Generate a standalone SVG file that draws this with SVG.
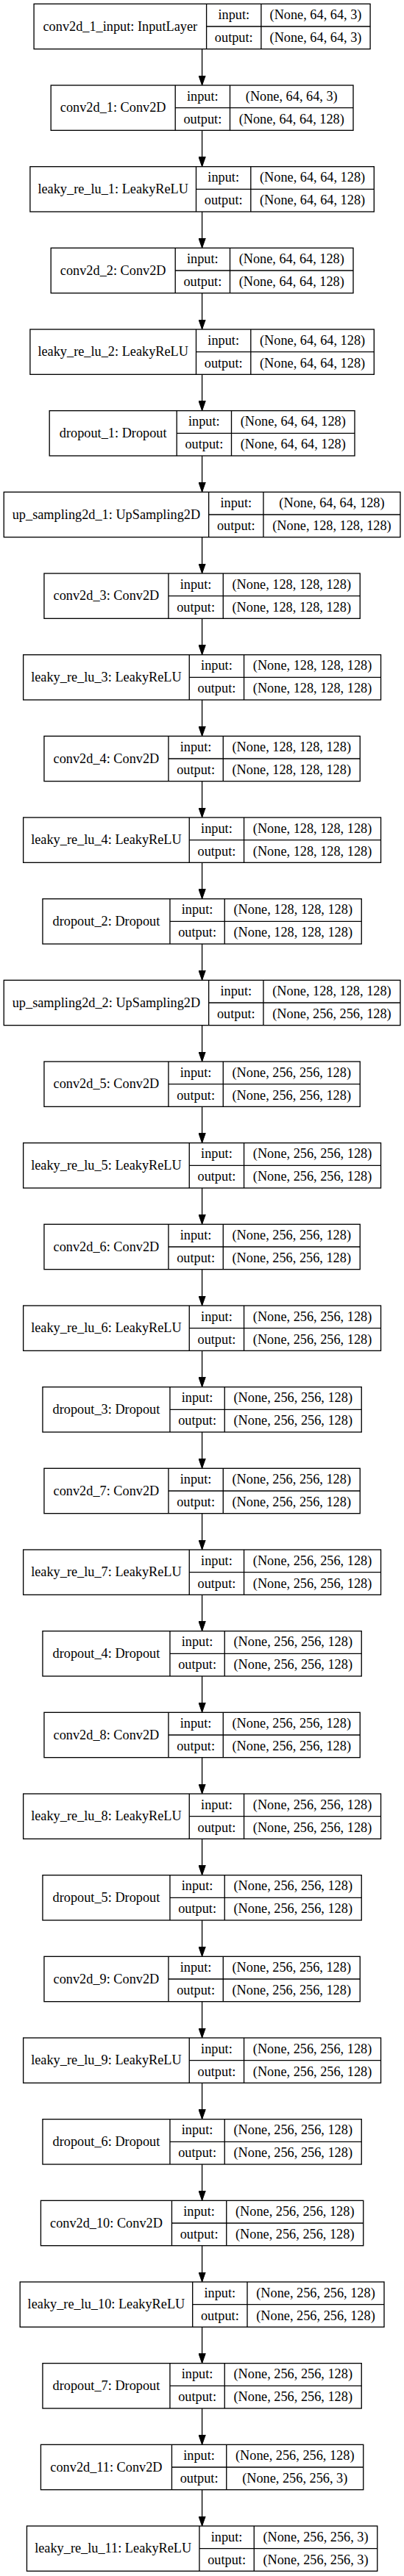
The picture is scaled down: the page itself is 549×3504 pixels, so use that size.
<svg xmlns="http://www.w3.org/2000/svg" width="549" height="3504" viewBox="0 0 549 3504">
<style>
.node rect{fill:#fff;stroke:#000;stroke-width:1.33}
.node path{fill:none;stroke:#000;stroke-width:1.33}
text{font-family:"Liberation Serif","Times New Roman",Times,serif;font-size:18.3px;text-anchor:middle;fill:#000}
#edges line{stroke:#000;stroke-width:1.33}
</style>
<defs>
<marker id="ah" markerUnits="userSpaceOnUse" viewBox="0 -5 14 10" markerWidth="14" markerHeight="10" refX="13.33" refY="0" orient="auto">
<path d="M0,-4.67L13.33,0L0,4.67z" fill="#000" stroke="#000" stroke-width="1"/>
</marker>
</defs>
<rect x="0" y="0" width="549" height="3504" fill="#fff"/>
<g id="edges">
<line x1="274.6" y1="66.66" x2="274.6" y2="116" marker-end="url(#ah)"/>
<line x1="274.6" y1="177.33" x2="274.6" y2="226.67" marker-end="url(#ah)"/>
<line x1="274.6" y1="288" x2="274.6" y2="337.33" marker-end="url(#ah)"/>
<line x1="274.6" y1="398.66" x2="274.6" y2="448" marker-end="url(#ah)"/>
<line x1="274.6" y1="509.33" x2="274.6" y2="558.67" marker-end="url(#ah)"/>
<line x1="274.6" y1="620" x2="274.6" y2="669.33" marker-end="url(#ah)"/>
<line x1="274.6" y1="730.66" x2="274.6" y2="780" marker-end="url(#ah)"/>
<line x1="274.6" y1="841.33" x2="274.6" y2="890.67" marker-end="url(#ah)"/>
<line x1="274.6" y1="952" x2="274.6" y2="1001.33" marker-end="url(#ah)"/>
<line x1="274.6" y1="1062.66" x2="274.6" y2="1112" marker-end="url(#ah)"/>
<line x1="274.6" y1="1173.33" x2="274.6" y2="1222.67" marker-end="url(#ah)"/>
<line x1="274.6" y1="1284" x2="274.6" y2="1333.33" marker-end="url(#ah)"/>
<line x1="274.6" y1="1394.66" x2="274.6" y2="1444" marker-end="url(#ah)"/>
<line x1="274.6" y1="1505.33" x2="274.6" y2="1554.67" marker-end="url(#ah)"/>
<line x1="274.6" y1="1616" x2="274.6" y2="1665.33" marker-end="url(#ah)"/>
<line x1="274.6" y1="1726.66" x2="274.6" y2="1776" marker-end="url(#ah)"/>
<line x1="274.6" y1="1837.33" x2="274.6" y2="1886.67" marker-end="url(#ah)"/>
<line x1="274.6" y1="1948" x2="274.6" y2="1997.33" marker-end="url(#ah)"/>
<line x1="274.6" y1="2058.66" x2="274.6" y2="2108" marker-end="url(#ah)"/>
<line x1="274.6" y1="2169.33" x2="274.6" y2="2218.67" marker-end="url(#ah)"/>
<line x1="274.6" y1="2280" x2="274.6" y2="2329.33" marker-end="url(#ah)"/>
<line x1="274.6" y1="2390.66" x2="274.6" y2="2440" marker-end="url(#ah)"/>
<line x1="274.6" y1="2501.33" x2="274.6" y2="2550.67" marker-end="url(#ah)"/>
<line x1="274.6" y1="2612" x2="274.6" y2="2661.33" marker-end="url(#ah)"/>
<line x1="274.6" y1="2722.66" x2="274.6" y2="2772" marker-end="url(#ah)"/>
<line x1="274.6" y1="2833.33" x2="274.6" y2="2882.67" marker-end="url(#ah)"/>
<line x1="274.6" y1="2944" x2="274.6" y2="2993.33" marker-end="url(#ah)"/>
<line x1="274.6" y1="3054.66" x2="274.6" y2="3104" marker-end="url(#ah)"/>
<line x1="274.6" y1="3165.33" x2="274.6" y2="3214.67" marker-end="url(#ah)"/>
<line x1="274.6" y1="3276" x2="274.6" y2="3325.33" marker-end="url(#ah)"/>
<line x1="274.6" y1="3386.66" x2="274.6" y2="3436" marker-end="url(#ah)"/>
</g>

<g id="conv2d_1_input" class="node" transform="translate(0,5.33)">
<rect x="46.1" y="0" width="457" height="61.33"/>
<path d="M280.6,0V61.33M354.9,0V61.33M280.6,30.67H503.1"/>
<text x="163.35" y="36.3">conv2d_1_input: InputLayer</text>
<text x="317.75" y="20.8">input:</text><text x="317.75" y="51.5">output:</text>
<text x="429" y="20.8">(None, 64, 64, 3)</text><text x="429" y="51.5">(None, 64, 64, 3)</text>
</g>

<g id="conv2d_1" class="node" transform="translate(0,116)">
<rect x="69.2" y="0" width="410.8" height="61.33"/>
<path d="M238.2,0V61.33M312.5,0V61.33M238.2,30.67H480"/>
<text x="153.7" y="36.3">conv2d_1: Conv2D</text>
<text x="275.35" y="20.8">input:</text><text x="275.35" y="51.5">output:</text>
<text x="396.25" y="20.8">(None, 64, 64, 3)</text><text x="396.25" y="51.5">(None, 64, 64, 128)</text>
</g>

<g id="leaky_re_lu_1" class="node" transform="translate(0,226.67)">
<rect x="40.9" y="0" width="467.4" height="61.33"/>
<path d="M266.5,0V61.33M340.8,0V61.33M266.5,30.67H508.3"/>
<text x="153.7" y="36.3">leaky_re_lu_1: LeakyReLU</text>
<text x="303.65" y="20.8">input:</text><text x="303.65" y="51.5">output:</text>
<text x="424.55" y="20.8">(None, 64, 64, 128)</text><text x="424.55" y="51.5">(None, 64, 64, 128)</text>
</g>

<g id="conv2d_2" class="node" transform="translate(0,337.33)">
<rect x="69.2" y="0" width="410.8" height="61.33"/>
<path d="M238.2,0V61.33M312.5,0V61.33M238.2,30.67H480"/>
<text x="153.7" y="36.3">conv2d_2: Conv2D</text>
<text x="275.35" y="20.8">input:</text><text x="275.35" y="51.5">output:</text>
<text x="396.25" y="20.8">(None, 64, 64, 128)</text><text x="396.25" y="51.5">(None, 64, 64, 128)</text>
</g>

<g id="leaky_re_lu_2" class="node" transform="translate(0,448)">
<rect x="40.9" y="0" width="467.4" height="61.33"/>
<path d="M266.5,0V61.33M340.8,0V61.33M266.5,30.67H508.3"/>
<text x="153.7" y="36.3">leaky_re_lu_2: LeakyReLU</text>
<text x="303.65" y="20.8">input:</text><text x="303.65" y="51.5">output:</text>
<text x="424.55" y="20.8">(None, 64, 64, 128)</text><text x="424.55" y="51.5">(None, 64, 64, 128)</text>
</g>

<g id="dropout_1" class="node" transform="translate(0,558.67)">
<rect x="67.2" y="0" width="414.8" height="61.33"/>
<path d="M240.2,0V61.33M314.5,0V61.33M240.2,30.67H482"/>
<text x="153.7" y="36.3">dropout_1: Dropout</text>
<text x="277.35" y="20.8">input:</text><text x="277.35" y="51.5">output:</text>
<text x="398.25" y="20.8">(None, 64, 64, 128)</text><text x="398.25" y="51.5">(None, 64, 64, 128)</text>
</g>

<g id="up_sampling2d_1" class="node" transform="translate(0,669.33)">
<rect x="5.25" y="0" width="538.7" height="61.33"/>
<path d="M283.65,0V61.33M357.95,0V61.33M283.65,30.67H543.95"/>
<text x="144.45" y="36.3">up_sampling2d_1: UpSampling2D</text>
<text x="320.8" y="20.8">input:</text><text x="320.8" y="51.5">output:</text>
<text x="450.95" y="20.8">(None, 64, 64, 128)</text><text x="450.95" y="51.5">(None, 128, 128, 128)</text>
</g>

<g id="conv2d_3" class="node" transform="translate(0,780)">
<rect x="59.95" y="0" width="429.3" height="61.33"/>
<path d="M228.95,0V61.33M303.25,0V61.33M228.95,30.67H489.25"/>
<text x="144.45" y="36.3">conv2d_3: Conv2D</text>
<text x="266.1" y="20.8">input:</text><text x="266.1" y="51.5">output:</text>
<text x="396.25" y="20.8">(None, 128, 128, 128)</text><text x="396.25" y="51.5">(None, 128, 128, 128)</text>
</g>

<g id="leaky_re_lu_3" class="node" transform="translate(0,890.67)">
<rect x="31.65" y="0" width="485.9" height="61.33"/>
<path d="M257.25,0V61.33M331.55,0V61.33M257.25,30.67H517.55"/>
<text x="144.45" y="36.3">leaky_re_lu_3: LeakyReLU</text>
<text x="294.4" y="20.8">input:</text><text x="294.4" y="51.5">output:</text>
<text x="424.55" y="20.8">(None, 128, 128, 128)</text><text x="424.55" y="51.5">(None, 128, 128, 128)</text>
</g>

<g id="conv2d_4" class="node" transform="translate(0,1001.33)">
<rect x="59.95" y="0" width="429.3" height="61.33"/>
<path d="M228.95,0V61.33M303.25,0V61.33M228.95,30.67H489.25"/>
<text x="144.45" y="36.3">conv2d_4: Conv2D</text>
<text x="266.1" y="20.8">input:</text><text x="266.1" y="51.5">output:</text>
<text x="396.25" y="20.8">(None, 128, 128, 128)</text><text x="396.25" y="51.5">(None, 128, 128, 128)</text>
</g>

<g id="leaky_re_lu_4" class="node" transform="translate(0,1112)">
<rect x="31.65" y="0" width="485.9" height="61.33"/>
<path d="M257.25,0V61.33M331.55,0V61.33M257.25,30.67H517.55"/>
<text x="144.45" y="36.3">leaky_re_lu_4: LeakyReLU</text>
<text x="294.4" y="20.8">input:</text><text x="294.4" y="51.5">output:</text>
<text x="424.55" y="20.8">(None, 128, 128, 128)</text><text x="424.55" y="51.5">(None, 128, 128, 128)</text>
</g>

<g id="dropout_2" class="node" transform="translate(0,1222.67)">
<rect x="57.95" y="0" width="433.3" height="61.33"/>
<path d="M230.95,0V61.33M305.25,0V61.33M230.95,30.67H491.25"/>
<text x="144.45" y="36.3">dropout_2: Dropout</text>
<text x="268.1" y="20.8">input:</text><text x="268.1" y="51.5">output:</text>
<text x="398.25" y="20.8">(None, 128, 128, 128)</text><text x="398.25" y="51.5">(None, 128, 128, 128)</text>
</g>

<g id="up_sampling2d_2" class="node" transform="translate(0,1333.33)">
<rect x="5.25" y="0" width="538.7" height="61.33"/>
<path d="M283.65,0V61.33M357.95,0V61.33M283.65,30.67H543.95"/>
<text x="144.45" y="36.3">up_sampling2d_2: UpSampling2D</text>
<text x="320.8" y="20.8">input:</text><text x="320.8" y="51.5">output:</text>
<text x="450.95" y="20.8">(None, 128, 128, 128)</text><text x="450.95" y="51.5">(None, 256, 256, 128)</text>
</g>

<g id="conv2d_5" class="node" transform="translate(0,1444)">
<rect x="59.95" y="0" width="429.3" height="61.33"/>
<path d="M228.95,0V61.33M303.25,0V61.33M228.95,30.67H489.25"/>
<text x="144.45" y="36.3">conv2d_5: Conv2D</text>
<text x="266.1" y="20.8">input:</text><text x="266.1" y="51.5">output:</text>
<text x="396.25" y="20.8">(None, 256, 256, 128)</text><text x="396.25" y="51.5">(None, 256, 256, 128)</text>
</g>

<g id="leaky_re_lu_5" class="node" transform="translate(0,1554.67)">
<rect x="31.65" y="0" width="485.9" height="61.33"/>
<path d="M257.25,0V61.33M331.55,0V61.33M257.25,30.67H517.55"/>
<text x="144.45" y="36.3">leaky_re_lu_5: LeakyReLU</text>
<text x="294.4" y="20.8">input:</text><text x="294.4" y="51.5">output:</text>
<text x="424.55" y="20.8">(None, 256, 256, 128)</text><text x="424.55" y="51.5">(None, 256, 256, 128)</text>
</g>

<g id="conv2d_6" class="node" transform="translate(0,1665.33)">
<rect x="59.95" y="0" width="429.3" height="61.33"/>
<path d="M228.95,0V61.33M303.25,0V61.33M228.95,30.67H489.25"/>
<text x="144.45" y="36.3">conv2d_6: Conv2D</text>
<text x="266.1" y="20.8">input:</text><text x="266.1" y="51.5">output:</text>
<text x="396.25" y="20.8">(None, 256, 256, 128)</text><text x="396.25" y="51.5">(None, 256, 256, 128)</text>
</g>

<g id="leaky_re_lu_6" class="node" transform="translate(0,1776)">
<rect x="31.65" y="0" width="485.9" height="61.33"/>
<path d="M257.25,0V61.33M331.55,0V61.33M257.25,30.67H517.55"/>
<text x="144.45" y="36.3">leaky_re_lu_6: LeakyReLU</text>
<text x="294.4" y="20.8">input:</text><text x="294.4" y="51.5">output:</text>
<text x="424.55" y="20.8">(None, 256, 256, 128)</text><text x="424.55" y="51.5">(None, 256, 256, 128)</text>
</g>

<g id="dropout_3" class="node" transform="translate(0,1886.67)">
<rect x="57.95" y="0" width="433.3" height="61.33"/>
<path d="M230.95,0V61.33M305.25,0V61.33M230.95,30.67H491.25"/>
<text x="144.45" y="36.3">dropout_3: Dropout</text>
<text x="268.1" y="20.8">input:</text><text x="268.1" y="51.5">output:</text>
<text x="398.25" y="20.8">(None, 256, 256, 128)</text><text x="398.25" y="51.5">(None, 256, 256, 128)</text>
</g>

<g id="conv2d_7" class="node" transform="translate(0,1997.33)">
<rect x="59.95" y="0" width="429.3" height="61.33"/>
<path d="M228.95,0V61.33M303.25,0V61.33M228.95,30.67H489.25"/>
<text x="144.45" y="36.3">conv2d_7: Conv2D</text>
<text x="266.1" y="20.8">input:</text><text x="266.1" y="51.5">output:</text>
<text x="396.25" y="20.8">(None, 256, 256, 128)</text><text x="396.25" y="51.5">(None, 256, 256, 128)</text>
</g>

<g id="leaky_re_lu_7" class="node" transform="translate(0,2108)">
<rect x="31.65" y="0" width="485.9" height="61.33"/>
<path d="M257.25,0V61.33M331.55,0V61.33M257.25,30.67H517.55"/>
<text x="144.45" y="36.3">leaky_re_lu_7: LeakyReLU</text>
<text x="294.4" y="20.8">input:</text><text x="294.4" y="51.5">output:</text>
<text x="424.55" y="20.8">(None, 256, 256, 128)</text><text x="424.55" y="51.5">(None, 256, 256, 128)</text>
</g>

<g id="dropout_4" class="node" transform="translate(0,2218.67)">
<rect x="57.95" y="0" width="433.3" height="61.33"/>
<path d="M230.95,0V61.33M305.25,0V61.33M230.95,30.67H491.25"/>
<text x="144.45" y="36.3">dropout_4: Dropout</text>
<text x="268.1" y="20.8">input:</text><text x="268.1" y="51.5">output:</text>
<text x="398.25" y="20.8">(None, 256, 256, 128)</text><text x="398.25" y="51.5">(None, 256, 256, 128)</text>
</g>

<g id="conv2d_8" class="node" transform="translate(0,2329.33)">
<rect x="59.95" y="0" width="429.3" height="61.33"/>
<path d="M228.95,0V61.33M303.25,0V61.33M228.95,30.67H489.25"/>
<text x="144.45" y="36.3">conv2d_8: Conv2D</text>
<text x="266.1" y="20.8">input:</text><text x="266.1" y="51.5">output:</text>
<text x="396.25" y="20.8">(None, 256, 256, 128)</text><text x="396.25" y="51.5">(None, 256, 256, 128)</text>
</g>

<g id="leaky_re_lu_8" class="node" transform="translate(0,2440)">
<rect x="31.65" y="0" width="485.9" height="61.33"/>
<path d="M257.25,0V61.33M331.55,0V61.33M257.25,30.67H517.55"/>
<text x="144.45" y="36.3">leaky_re_lu_8: LeakyReLU</text>
<text x="294.4" y="20.8">input:</text><text x="294.4" y="51.5">output:</text>
<text x="424.55" y="20.8">(None, 256, 256, 128)</text><text x="424.55" y="51.5">(None, 256, 256, 128)</text>
</g>

<g id="dropout_5" class="node" transform="translate(0,2550.67)">
<rect x="57.95" y="0" width="433.3" height="61.33"/>
<path d="M230.95,0V61.33M305.25,0V61.33M230.95,30.67H491.25"/>
<text x="144.45" y="36.3">dropout_5: Dropout</text>
<text x="268.1" y="20.8">input:</text><text x="268.1" y="51.5">output:</text>
<text x="398.25" y="20.8">(None, 256, 256, 128)</text><text x="398.25" y="51.5">(None, 256, 256, 128)</text>
</g>

<g id="conv2d_9" class="node" transform="translate(0,2661.33)">
<rect x="59.95" y="0" width="429.3" height="61.33"/>
<path d="M228.95,0V61.33M303.25,0V61.33M228.95,30.67H489.25"/>
<text x="144.45" y="36.3">conv2d_9: Conv2D</text>
<text x="266.1" y="20.8">input:</text><text x="266.1" y="51.5">output:</text>
<text x="396.25" y="20.8">(None, 256, 256, 128)</text><text x="396.25" y="51.5">(None, 256, 256, 128)</text>
</g>

<g id="leaky_re_lu_9" class="node" transform="translate(0,2772)">
<rect x="31.65" y="0" width="485.9" height="61.33"/>
<path d="M257.25,0V61.33M331.55,0V61.33M257.25,30.67H517.55"/>
<text x="144.45" y="36.3">leaky_re_lu_9: LeakyReLU</text>
<text x="294.4" y="20.8">input:</text><text x="294.4" y="51.5">output:</text>
<text x="424.55" y="20.8">(None, 256, 256, 128)</text><text x="424.55" y="51.5">(None, 256, 256, 128)</text>
</g>

<g id="dropout_6" class="node" transform="translate(0,2882.67)">
<rect x="57.95" y="0" width="433.3" height="61.33"/>
<path d="M230.95,0V61.33M305.25,0V61.33M230.95,30.67H491.25"/>
<text x="144.45" y="36.3">dropout_6: Dropout</text>
<text x="268.1" y="20.8">input:</text><text x="268.1" y="51.5">output:</text>
<text x="398.25" y="20.8">(None, 256, 256, 128)</text><text x="398.25" y="51.5">(None, 256, 256, 128)</text>
</g>

<g id="conv2d_10" class="node" transform="translate(0,2993.33)">
<rect x="55.45" y="0" width="438.3" height="61.33"/>
<path d="M233.45,0V61.33M307.75,0V61.33M233.45,30.67H493.75"/>
<text x="144.45" y="36.3">conv2d_10: Conv2D</text>
<text x="270.6" y="20.8">input:</text><text x="270.6" y="51.5">output:</text>
<text x="400.75" y="20.8">(None, 256, 256, 128)</text><text x="400.75" y="51.5">(None, 256, 256, 128)</text>
</g>

<g id="leaky_re_lu_10" class="node" transform="translate(0,3104)">
<rect x="27.2" y="0" width="494.8" height="61.33"/>
<path d="M261.7,0V61.33M336,0V61.33M261.7,30.67H522"/>
<text x="144.45" y="36.3">leaky_re_lu_10: LeakyReLU</text>
<text x="298.85" y="20.8">input:</text><text x="298.85" y="51.5">output:</text>
<text x="429" y="20.8">(None, 256, 256, 128)</text><text x="429" y="51.5">(None, 256, 256, 128)</text>
</g>

<g id="dropout_7" class="node" transform="translate(0,3214.67)">
<rect x="57.95" y="0" width="433.3" height="61.33"/>
<path d="M230.95,0V61.33M305.25,0V61.33M230.95,30.67H491.25"/>
<text x="144.45" y="36.3">dropout_7: Dropout</text>
<text x="268.1" y="20.8">input:</text><text x="268.1" y="51.5">output:</text>
<text x="398.25" y="20.8">(None, 256, 256, 128)</text><text x="398.25" y="51.5">(None, 256, 256, 128)</text>
</g>

<g id="conv2d_11" class="node" transform="translate(0,3325.33)">
<rect x="55.45" y="0" width="438.3" height="61.33"/>
<path d="M233.45,0V61.33M307.75,0V61.33M233.45,30.67H493.75"/>
<text x="144.45" y="36.3">conv2d_11: Conv2D</text>
<text x="270.6" y="20.8">input:</text><text x="270.6" y="51.5">output:</text>
<text x="400.75" y="20.8">(None, 256, 256, 128)</text><text x="400.75" y="51.5">(None, 256, 256, 3)</text>
</g>

<g id="leaky_re_lu_11" class="node" transform="translate(0,3436)">
<rect x="36.45" y="0" width="476.3" height="61.33"/>
<path d="M270.95,0V61.33M345.25,0V61.33M270.95,30.67H512.75"/>
<text x="153.7" y="36.3">leaky_re_lu_11: LeakyReLU</text>
<text x="308.1" y="20.8">input:</text><text x="308.1" y="51.5">output:</text>
<text x="429" y="20.8">(None, 256, 256, 3)</text><text x="429" y="51.5">(None, 256, 256, 3)</text>
</g>
</svg>
